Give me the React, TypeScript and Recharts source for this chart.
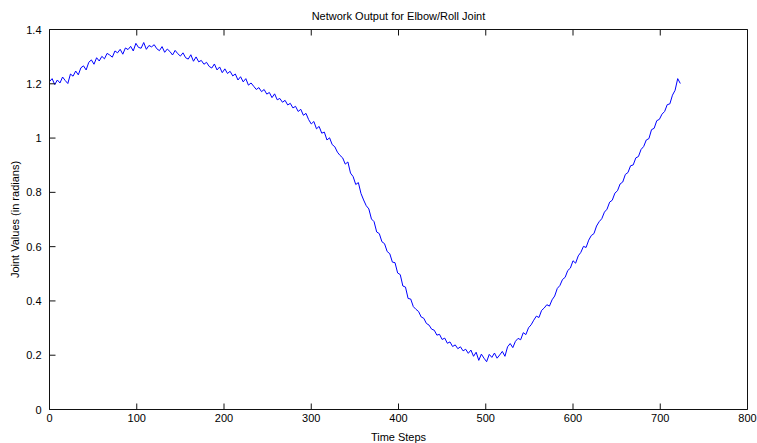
import { LineChart, Line, XAxis, YAxis } from "recharts";

// network output sampled every 3 time steps
const STEP = 3;
const jointValues = [
  1.208, 1.219, 1.197, 1.214, 1.203, 1.225, 1.212, 1.201, 1.236, 1.228,
  1.247, 1.233, 1.259, 1.266, 1.251, 1.279, 1.288, 1.272, 1.296, 1.284,
  1.301, 1.292, 1.312, 1.306, 1.298, 1.321, 1.314, 1.327, 1.309, 1.332,
  1.326, 1.338, 1.321, 1.349, 1.334, 1.331, 1.352, 1.327, 1.341, 1.336,
  1.344, 1.329, 1.322, 1.337, 1.316, 1.328, 1.319, 1.306, 1.323, 1.311,
  1.302, 1.314, 1.296, 1.291, 1.307, 1.283, 1.299, 1.281, 1.286, 1.272,
  1.279, 1.264, 1.258, 1.273, 1.251, 1.262, 1.241, 1.255, 1.238, 1.246,
  1.229, 1.236, 1.214, 1.226, 1.207, 1.219, 1.195, 1.203, 1.191, 1.179,
  1.186, 1.171, 1.179, 1.162, 1.168, 1.149, 1.163, 1.141, 1.146, 1.132,
  1.139, 1.122, 1.128, 1.111, 1.117, 1.098, 1.106, 1.084, 1.091, 1.068,
  1.052, 1.061, 1.034, 1.043, 1.018, 1.022, 0.993, 1.001, 0.976, 0.968,
  0.948, 0.936, 0.927, 0.904, 0.912, 0.871, 0.858, 0.829, 0.836, 0.796,
  0.772, 0.751, 0.739, 0.702, 0.692, 0.654, 0.648, 0.618, 0.611, 0.582,
  0.574, 0.543, 0.541, 0.503, 0.497, 0.455, 0.451, 0.409, 0.407, 0.379,
  0.369, 0.361, 0.341, 0.336, 0.317, 0.311, 0.296, 0.292, 0.274, 0.277,
  0.258, 0.263, 0.244, 0.249, 0.232, 0.238, 0.224, 0.231, 0.216, 0.222,
  0.207, 0.219, 0.196, 0.211, 0.181, 0.204, 0.189, 0.176, 0.203, 0.192,
  0.208, 0.189, 0.201, 0.214, 0.196, 0.231, 0.243, 0.228, 0.251, 0.262,
  0.257, 0.283, 0.276, 0.301, 0.312, 0.329, 0.344, 0.339, 0.365, 0.374,
  0.386, 0.381, 0.404, 0.418, 0.446, 0.457, 0.479, 0.487, 0.512, 0.521,
  0.548, 0.539, 0.566, 0.579, 0.601, 0.597, 0.624, 0.641, 0.648, 0.676,
  0.692, 0.703, 0.727, 0.738, 0.764, 0.771, 0.797, 0.806, 0.831, 0.838,
  0.866, 0.873, 0.898, 0.901, 0.927, 0.932, 0.958, 0.969, 0.993, 0.998,
  1.031, 1.036, 1.064, 1.069, 1.088, 1.098, 1.123, 1.126, 1.158, 1.176,
  1.219, 1.201,
];

const xTicks = [0, 100, 200, 300, 400, 500, 600, 700, 800];
const yTicks = [0, 0.2, 0.4, 0.6, 0.8, 1, 1.2, 1.4];

const title = "Network Output for Elbow/Roll Joint";
const xTitle = "Time Steps";
const yTitle = "Joint Values (in radians)";

const data = jointValues.map((v, i) => ({ step: i * STEP, value: v }));

const FONT = "'Liberation Sans', Arial, sans-serif";
const AXIS = "#111";
const TICK_LEN = 6;

// axis sizes; the chart margins make up the rest of the frame
const LEFT_W = 40;
const BOTTOM_H = 30;

const BottomTick = ({ x, y, payload }: any) => (
  <g>
    <line x1={x} x2={x} y1={y} y2={y - TICK_LEN} stroke={AXIS} />
    <text x={x} y={y + 12} textAnchor="middle" fontSize={11} fontFamily={FONT} fill="#000">
      {payload.value}
    </text>
  </g>
);

const TopTick = ({ x, y }: any) => (
  <line x1={x} x2={x} y1={y} y2={y + TICK_LEN} stroke={AXIS} />
);

const LeftTick = ({ x, y, payload }: any) => (
  <g>
    <line x1={x + 8} x2={x + 8 + TICK_LEN} y1={y} y2={y} stroke={AXIS} />
    <text x={x} y={y + 4} textAnchor="end" fontSize={11} fontFamily={FONT} fill="#000">
      {String(payload.value)}
    </text>
  </g>
);

const RightTick = ({ x, y }: any) => (
  <line x1={x} x2={x - TICK_LEN} y1={y} y2={y} stroke={AXIS} />
);

export default function App() {
  return (
    <div style={{ width: 757, height: 443, background: "#fff" }}>
      <style>{"body { margin: 0; }"}</style>
      <LineChart
        width={757}
        height={443}
        data={data}
        margin={{ top: 28.5, right: 8.5, bottom: 443 - 409.5 - BOTTOM_H, left: 49.5 - LEFT_W }}
      >
        <XAxis
          xAxisId="bottom"
          dataKey="step"
          type="number"
          domain={[0, 800]}
          ticks={xTicks}
          height={BOTTOM_H}
          tickSize={0}
          tickMargin={0}
          tickLine={false}
          tick={<BottomTick />}
          axisLine={{ stroke: AXIS }}
          interval={0}
          label={{
            value: xTitle,
            content: ({ viewBox }: any) => (
              <text
                x={viewBox.x + viewBox.width / 2}
                y={viewBox.y + 31}
                textAnchor="middle"
                fontSize={11}
                fontFamily={FONT}
                fill="#000"
              >
                {xTitle}
              </text>
            ),
          }}
        />
        <XAxis
          xAxisId="top"
          orientation="top"
          dataKey="step"
          type="number"
          domain={[0, 800]}
          ticks={xTicks}
          height={1}
          tickSize={0}
          tickMargin={0}
          tickLine={false}
          tick={<TopTick />}
          axisLine={{ stroke: AXIS }}
          interval={0}
          label={{
            value: title,
            content: ({ viewBox }: any) => (
              <text
                x={viewBox.x + viewBox.width / 2}
                y={viewBox.y + viewBox.height - 10}
                textAnchor="middle"
                fontSize={11}
                fontFamily={FONT}
                fill="#000"
              >
                {title}
              </text>
            ),
          }}
        />
        <YAxis
          yAxisId="left"
          type="number"
          domain={[0, 1.4]}
          ticks={yTicks}
          width={LEFT_W}
          tickSize={0}
          tickMargin={8}
          tickLine={false}
          tick={<LeftTick />}
          axisLine={{ stroke: AXIS }}
          interval={0}
          label={{
            value: yTitle,
            content: ({ viewBox }: any) => {
              const cx = viewBox.x + viewBox.width - 31;
              const cy = viewBox.y + viewBox.height / 2;
              return (
                <text
                  x={cx}
                  y={cy}
                  transform={`rotate(-90 ${cx} ${cy})`}
                  textAnchor="middle"
                  fontSize={11}
                  fontFamily={FONT}
                  fill="#000"
                >
                  {yTitle}
                </text>
              );
            },
          }}
        />
        <YAxis
          yAxisId="right"
          orientation="right"
          type="number"
          domain={[0, 1.4]}
          ticks={yTicks}
          width={1}
          tickSize={0}
          tickMargin={0}
          tickLine={false}
          tick={<RightTick />}
          axisLine={{ stroke: AXIS }}
          interval={0}
        />
        <Line
          xAxisId="bottom"
          yAxisId="left"
          type="linear"
          dataKey="value"
          stroke="#0000ff"
          strokeWidth={1}
          dot={false}
          isAnimationActive={false}
        />
      </LineChart>
    </div>
  );
}
